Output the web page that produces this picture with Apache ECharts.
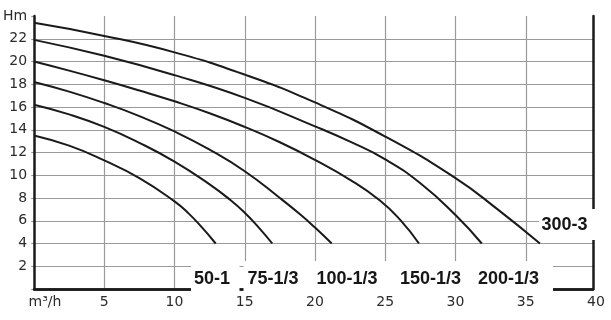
<!DOCTYPE html>
<html><head><meta charset="utf-8">
<script src="https://cdn.jsdelivr.net/npm/echarts@6/dist/echarts.min.js"></script>
<style>html,body{margin:0;padding:0;background:#fff}#c{width:611px;height:320px}</style>
</head><body><div id="c"></div>
<script>
// ---- data (flow m³/h, head m) ----
const curveNames = ['50-1', '75-1/3', '100-1/3', '150-1/3', '200-1/3', '300-3'];
const s50  = [[0,13.5],[2.5,12.6],[5,11.3],[7.5,9.75],[10,7.7],[11,6.65],[12,5.35],[12.93,4]];
const s75  = [[0,16.2],[2.5,15.35],[5,14.25],[7.5,12.85],[10,11.2],[12.5,9.2],[14,7.8],[15,6.7],[16,5.4],[16.96,4]];
const s100 = [[0,18.2],[2.5,17.35],[5,16.35],[7.5,15.2],[10,13.85],[12.5,12.25],[15,10.35],[17.5,8.0],[19,6.5],[20,5.4],[21.19,4]];
const s150 = [[0,20.0],[2.5,19.2],[5,18.35],[7.5,17.45],[10,16.5],[12.5,15.45],[15,14.25],[17.5,12.9],[20,11.35],[22.5,9.6],[24.6,7.8],[26.05,6.1],[27.4,4]];
const s200 = [[0,21.9],[5,20.5],[10,18.8],[15,16.8],[20,14.3],[22.5,12.95],[25,11.4],[27.5,9.3],[30,6.5],[31.87,4]];
const s300 = [[0,23.4],[5,22.25],[10,20.8],[15,18.85],[20,16.4],[25,13.4],[30,9.75],[33,7.0],[36.01,4]];
const curves = [s50, s75, s100, s150, s200, s300];
const xTicks = [0, 5, 10, 15, 20, 25, 30, 35, 40];
const yTicks = [0, 2, 4, 6, 8, 10, 12, 14, 16, 18, 20, 22, 24];
const yUnit = 'Hm';
const xUnit = 'm³/h';

// ---- layout / styles ----
const labelPos = [[194,279],[247.5,279],[316.5,279],[400,279],[478,279],[541.5,225]];
const ink = '#1a1a1a', gridCol = '#9a9a9a', txtCol = '#2b2b2b';
const axFont = {fontFamily:'DejaVu Sans', fontSize:14, color:txtCol};
const frameLine = {show:true, lineStyle:{color:ink, width:2.5}};

const chart = echarts.init(document.getElementById('c'), null, {renderer:'canvas'});
const series = curves.map((d, i) => ({
  type:'line', name:curveNames[i], data:d, xAxisIndex:0, yAxisIndex:0,
  smooth:0.5, symbol:'none', showSymbol:false, silent:true, z:2,
  lineStyle:{color:ink, width:2}
}));

const graphicEls = [
  {type:'rect', shape:{x:191, y:261, width:48.5, height:34}, style:{fill:'#fff'}, z:100, silent:true},
  {type:'rect', shape:{x:243.5, y:261, width:309.5, height:34}, style:{fill:'#fff'}, z:100, silent:true},
  {type:'rect', shape:{x:539, y:209, width:62, height:31}, style:{fill:'#fff'}, z:100, silent:true}
];
curveNames.forEach((n, i) => {
  graphicEls.push({type:'text', x:labelPos[i][0], y:labelPos[i][1], z:101, silent:true,
    style:{text:n, fill:'#161616', font:'bold 18px "Liberation Sans", Arial, sans-serif', align:'left', verticalAlign:'middle'}});
});

chart.setOption({
  animation:false,
  backgroundColor:'#fff',
  grid:[
    {left:34, right:15, top:16, bottom:31},
    {left:32, right:18, top:16, bottom:31}
  ],
  xAxis:[
    {gridIndex:0, type:'value', min:xTicks[0], max:xTicks[xTicks.length-1], interval:5,
     axisLine:{show:false}, axisTick:{show:false},
     splitLine:{show:true, showMinLine:false, showMaxLine:false, lineStyle:{color:gridCol, width:1.2}},
     axisLabel:Object.assign({margin:6,
       formatter:v => v === 0 ? '{u|' + xUnit + '}' : String(v),
       rich:{u:{fontFamily:'DejaVu Sans', fontSize:14, color:txtCol, padding:[0,0,0,22]}}}, axFont)},
    {gridIndex:1, type:'value', min:0, max:1, position:'bottom', z:3,
     axisLine:frameLine, axisTick:{show:false}, axisLabel:{show:false}, splitLine:{show:false}},
    {gridIndex:1, type:'value', min:0, max:1, position:'top', z:3,
     axisLine:frameLine, axisTick:{show:false}, axisLabel:{show:false}, splitLine:{show:false}}
  ],
  yAxis:[
    {gridIndex:0, type:'value', min:0, max:24, interval:2, show:false},
    {gridIndex:1, type:'value', min:yTicks[0], max:yTicks[yTicks.length-1], interval:2, position:'left',
     axisLine:{show:false},
     axisTick:{show:true, inside:false, length:3, lineStyle:{color:gridCol, width:1.2}},
     splitLine:{show:true, showMinLine:false, showMaxLine:false, lineStyle:{color:gridCol, width:1.2}},
     axisLabel:Object.assign({margin:7,
       formatter:v => v === 0 ? '' : (v === 24 ? yUnit : String(v))}, axFont)},
    {gridIndex:1, type:'value', min:0, max:24, position:'left', z:3,
     axisLine:frameLine, axisTick:{show:false}, axisLabel:{show:false}, splitLine:{show:false}},
    {gridIndex:1, type:'value', min:0, max:24, position:'right', z:3,
     axisLine:frameLine, axisTick:{show:false}, axisLabel:{show:false}, splitLine:{show:false}}
  ],
  series:series,
  graphic:{elements:graphicEls}
});
</script></body></html>
